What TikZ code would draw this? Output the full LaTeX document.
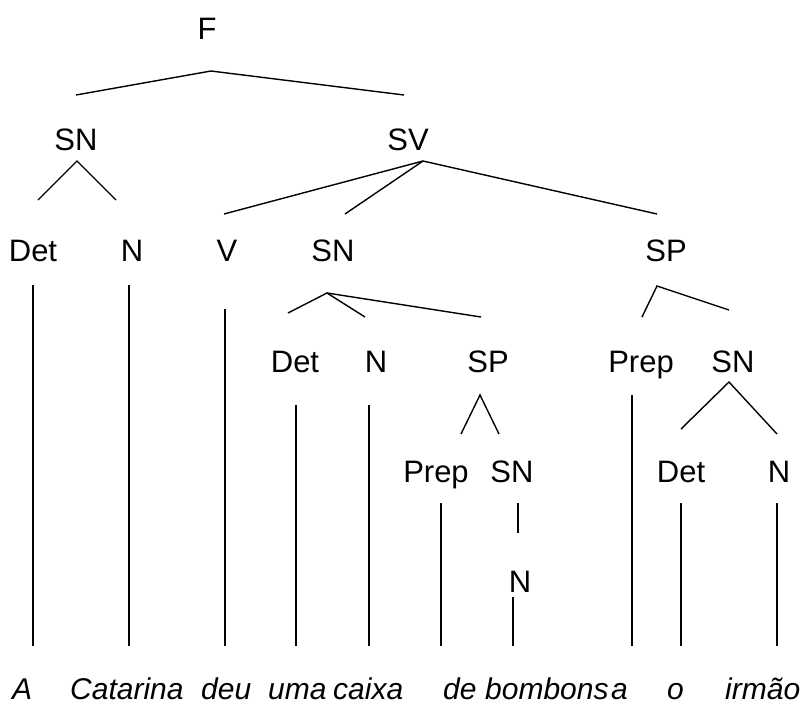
\documentclass[tikz,border=0pt]{standalone}
\usepackage{fontspec}
\setmainfont{Liberation Sans}
\tikzset{%
  catLabel/.style={%
    anchor=base,
    inner sep=0pt,
    font=\fontsize{31}{36}\selectfont
  },
  wordLabel/.style={%
    anchor=base west,
    inner sep=0pt,
    font=\fontsize{30}{36}\selectfont\itshape
  },
  branch/.style={%
    line width=1.4pt,
    color=black
  }
}
\begin{document}
\begin{tikzpicture}[x=1pt,y=-1pt]
            \useasboundingbox (0,0) rectangle (804,702);
            % category labels
            \node[catLabel] (F) at (207,39) {F};
            \node[catLabel] (snA) at (76,150) {SN};
            \node[catLabel] (sv) at (408,150) {SV};
            \node[catLabel] (detA) at (33,261) {Det};
            \node[catLabel] (nA) at (132,261) {N};
            \node[catLabel] (v) at (227,261) {V};
            \node[catLabel] (snB) at (333,261) {SN};
            \node[catLabel] (spA) at (666,261) {SP};
            \node[catLabel] (detB) at (295,372) {Det};
            \node[catLabel] (nB) at (376,372) {N};
            \node[catLabel] (spB) at (488,372) {SP};
            \node[catLabel] (prepA) at (641,372) {Prep};
            \node[catLabel] (snC) at (733,372) {SN};
            \node[catLabel] (prepB) at (436,482) {Prep};
            \node[catLabel] (snD) at (512,482) {SN};
            \node[catLabel] (detC) at (681,482) {Det};
            \node[catLabel] (nC) at (779,482) {N};
            \node[catLabel] (nD) at (520,592) {N};
            % words
            \node[wordLabel] (wA) at (12,699) {A};
            \node[wordLabel] (wCatarina) at (70,699) {Catarina};
            \node[wordLabel] (wDeu) at (201,699) {deu};
            \node[wordLabel] (wUma) at (268,699) {uma};
            \node[wordLabel] (wCaixa) at (333,699) {caixa};
            \node[wordLabel] (wDe) at (443,699) {de};
            \node[wordLabel] (wBombons) at (485,699) {bombons};
            \node[wordLabel] (wPrep) at (611,699) {a};
            \node[wordLabel] (wO) at (667,699) {o};
            \node[wordLabel] (wIrmao) at (725,699) {irmão};
            % branch points
            \coordinate (fTop) at (211,71);
            \coordinate (fL) at (76,95);
            \coordinate (fR) at (404,95);
            \coordinate (snATop) at (77,161);
            \coordinate (snAL) at (38,200);
            \coordinate (snAR) at (116,200);
            \coordinate (svTop) at (423,161);
            \coordinate (svL) at (224,214);
            \coordinate (svM) at (345,214);
            \coordinate (svR) at (657,214);
            \coordinate (snBTop) at (327,293);
            \coordinate (snBL) at (288,313);
            \coordinate (snBM) at (365,317);
            \coordinate (snBR) at (481,317);
            \coordinate (spATop) at (657,286);
            \coordinate (spAL) at (642,317);
            \coordinate (spAR) at (729,310);
            \coordinate (spBTop) at (480,395);
            \coordinate (spBL) at (461,434);
            \coordinate (spBR) at (499,434);
            \coordinate (snCTop) at (729,382);
            \coordinate (snCL) at (681,429);
            \coordinate (snCR) at (777,434);
            \coordinate (snDTop) at (518,503);
            \coordinate (snDBot) at (518,533);
            % stems to the words
            \coordinate (detAStem) at (33,285);
            \coordinate (nAStem) at (129,285);
            \coordinate (vStem) at (225,309);
            \coordinate (detBStem) at (296,405);
            \coordinate (nBStem) at (369,405);
            \coordinate (prepAStem) at (632,395);
            \coordinate (prepBStem) at (441,503);
            \coordinate (nDStem) at (513,597);
            \coordinate (detCStem) at (681,503);
            \coordinate (nCStem) at (777,503);
            \coordinate (wAEnd) at (33,646);
            \coordinate (wCatarinaEnd) at (129,646);
            \coordinate (wDeuEnd) at (225,646);
            \coordinate (wUmaEnd) at (296,646);
            \coordinate (wCaixaEnd) at (369,646);
            \coordinate (wDeEnd) at (441,646);
            \coordinate (wBombonsEnd) at (513,646);
            \coordinate (wPrepEnd) at (632,646);
            \coordinate (wOEnd) at (681,646);
            \coordinate (wIrmaoEnd) at (777,646);

            \draw[branch] (fL) -- (fTop) -- (fR);
            \draw[branch] (snAL) -- (snATop) -- (snAR);
            \draw[branch] (svL) -- (svTop) -- (svR);
            \draw[branch] (svM) -- (svTop);
            \draw[branch] (snBL) -- (snBTop) -- (snBM);
            \draw[branch] (snBTop) -- (snBR);
            \draw[branch] (spAL) -- (spATop) -- (spAR);
            \draw[branch] (spBL) -- (spBTop) -- (spBR);
            \draw[branch] (snCL) -- (snCTop) -- (snCR);
            \draw[branch] (snDTop) -- (snDBot);

            \draw[branch] (detAStem) -- (wAEnd);
            \draw[branch] (nAStem) -- (wCatarinaEnd);
            \draw[branch] (vStem) -- (wDeuEnd);
            \draw[branch] (detBStem) -- (wUmaEnd);
            \draw[branch] (nBStem) -- (wCaixaEnd);
            \draw[branch] (prepBStem) -- (wDeEnd);
            \draw[branch] (nDStem) -- (wBombonsEnd);
            \draw[branch] (prepAStem) -- (wPrepEnd);
            \draw[branch] (detCStem) -- (wOEnd);
            \draw[branch] (nCStem) -- (wIrmaoEnd);
        \end{tikzpicture}
\end{document}
